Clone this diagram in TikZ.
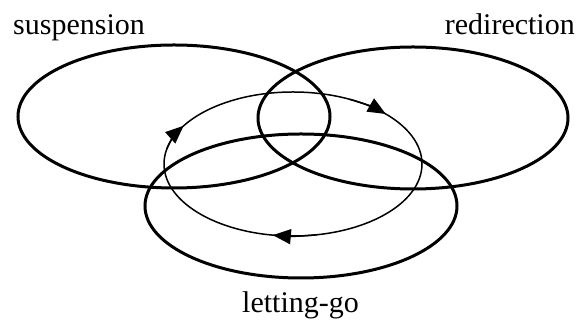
\documentclass[tikz,border=0pt]{standalone}
\usepackage{fontspec}
\setmainfont{Liberation Serif}
\usetikzlibrary{arrows.meta,shapes.geometric,positioning}

\begin{document}
\begin{tikzpicture}[
  x=1pt, y=1pt,
  ring/.style={ellipse, draw=black, line width=3pt, inner sep=0pt},
  orbit/.style={ellipse, draw=black, line width=1.5pt, inner sep=0pt},
  lbl/.style={inner sep=0pt, font=\fontsize{30}{32}\selectfont},
  tip/.style={-{Triangle[length=18pt,width=15pt]}, line width=1.5pt},
]
\useasboundingbox (0,0) rectangle (579,320);

% Three states
\node[ring, minimum width=312pt, minimum height=143pt] (susp)  at (174,203.5) {};
\node[ring, minimum width=310pt, minimum height=142pt] (redir) at (413,202)   {};
\node[ring, minimum width=312pt, minimum height=144pt] (letgo) at (301,114)   {};

% Cycle through them (clockwise)
\node[orbit, minimum width=258pt, minimum height=144pt] (cycle) at (293,156) {};
\foreach \t in {44,148,261}
  \draw[tip] (cycle.center) ++(\t+20:129pt and 72pt)
    arc[start angle=\t+20, end angle=\t, x radius=129pt, y radius=72pt];

% Labels
\node[lbl, anchor=base west] (susplbl)  at (13,285)  {suspension};
\node[lbl, anchor=base east] (redirlbl) at (575,285) {redirection};
\node[lbl, anchor=base west] (letgolbl) at (242,7)   {letting-go};
\end{tikzpicture}
\end{document}
